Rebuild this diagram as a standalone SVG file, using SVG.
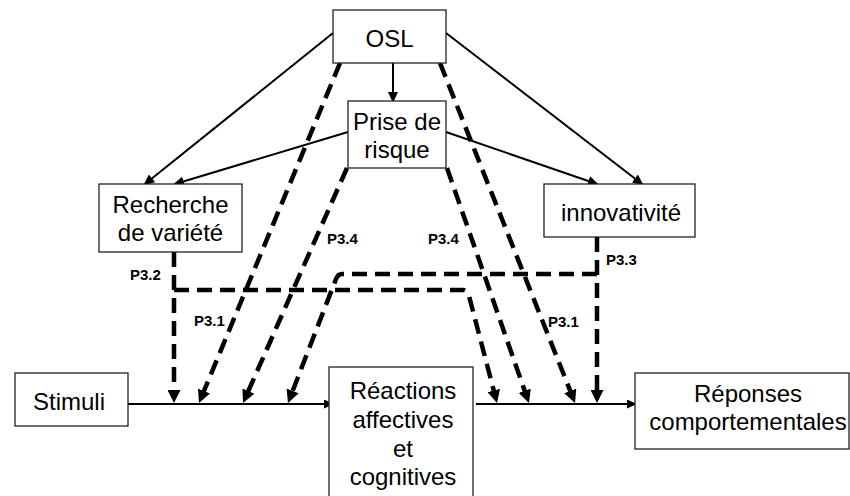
<svg xmlns="http://www.w3.org/2000/svg" width="850" height="496" viewBox="0 0 850 496">
<style>
.box{fill:#fff;stroke:#222;stroke-width:1.3}
.t{font-family:"Liberation Sans",Arial,sans-serif;font-size:24px;fill:#000;text-anchor:middle}
.lbl{font-family:"Liberation Sans",Arial,sans-serif;font-size:15px;font-weight:bold;fill:#000}
.sol{fill:none;stroke:#000;stroke-width:2}
.dsh{fill:none;stroke:#000;stroke-width:4.5;stroke-dasharray:15 8}
</style>
<defs>
<marker id="ah" markerUnits="userSpaceOnUse" markerWidth="11" markerHeight="10" refX="9" refY="5" orient="auto"><path d="M0,0 L11,5 L0,10 z" fill="#000"/></marker>
<marker id="ahm" markerUnits="userSpaceOnUse" markerWidth="10" markerHeight="9" refX="8" refY="4.5" orient="auto"><path d="M0,0 L10,4.5 L0,9 z" fill="#000"/></marker>
<marker id="ahd" markerUnits="userSpaceOnUse" markerWidth="13" markerHeight="13" refX="1" refY="6.5" orient="auto"><path d="M0,0 L13,6.5 L0,13 z" fill="#000"/></marker>
</defs>
<g id="connectors">
<line class="sol" x1="333" y1="33" x2="145" y2="184" marker-end="url(#ah)"/>
<line class="sol" x1="393" y1="63" x2="393" y2="101" marker-end="url(#ah)"/>
<line class="sol" x1="348" y1="132" x2="175" y2="184" marker-end="url(#ah)"/>
<line class="sol" x1="446" y1="33" x2="642" y2="184" marker-end="url(#ah)"/>
<line class="sol" x1="446" y1="132" x2="597" y2="184" marker-end="url(#ah)"/>
<line class="sol" x1="128" y1="404" x2="332" y2="404" marker-end="url(#ahm)"/>
<line class="sol" x1="476" y1="404" x2="635" y2="404" marker-end="url(#ahm)"/>
<path class="dsh" d="M340,63 L203.6,391.9" marker-end="url(#ahd)"/>
<path class="dsh" d="M347,168 L247.9,392" marker-end="url(#ahd)"/>
<path class="dsh" d="M597,274 L342,274 Q338,274 336,279 L292.3,391.8" marker-end="url(#ahd)"/>
<path class="dsh" d="M174,252 L174,391" marker-end="url(#ahd)"/>
<path class="dsh" d="M174,290 L463,290 Q467,290 469,296 L494,391.4" marker-end="url(#ahd)"/>
<path class="dsh" d="M447,168 L525,391.7" marker-end="url(#ahd)"/>
<path class="dsh" d="M440,63 L570.6,391.8" marker-end="url(#ahd)"/>
<path class="dsh" d="M597,237 L597,391" marker-end="url(#ahd)"/>
<text class="lbl" x="130" y="280">P3.2</text>
<text class="lbl" x="194" y="326">P3.1</text>
<text class="lbl" x="327" y="244">P3.4</text>
<text class="lbl" x="428" y="244">P3.4</text>
<text class="lbl" x="606" y="265">P3.3</text>
<text class="lbl" x="548" y="327">P3.1</text>
</g>
<g id="osl"><rect class="box" x="333" y="10" width="113" height="53"/><text class="t" x="389.5" y="47">OSL</text></g>
<g id="prise"><rect class="box" x="348" y="101" width="98" height="67"/><text class="t" x="397" y="130">Prise de</text><text class="t" x="397" y="158">risque</text></g>
<g id="recherche"><rect class="box" x="99" y="184" width="143" height="68"/><text class="t" x="170.5" y="213">Recherche</text><text class="t" x="170.5" y="241">de variété</text></g>
<g id="innovativite"><rect class="box" x="544" y="184" width="151" height="53"/><text class="t" x="621" y="221">innovativité</text></g>
<g id="stimuli"><rect class="box" x="15" y="373" width="113" height="53"/><text class="t" x="69" y="410">Stimuli</text></g>
<g id="reactions"><rect class="box" x="329" y="367" width="144" height="140"/><text class="t" x="403" y="399">Réactions</text><text class="t" x="403" y="428">affectives</text><text class="t" x="403" y="457">et</text><text class="t" x="403" y="485">cognitives</text></g>
<g id="reponses"><rect class="box" x="635" y="373" width="214" height="76"/><text class="t" x="748" y="402">Réponses</text><text class="t" x="748" y="430">comportementales</text></g>
</svg>
